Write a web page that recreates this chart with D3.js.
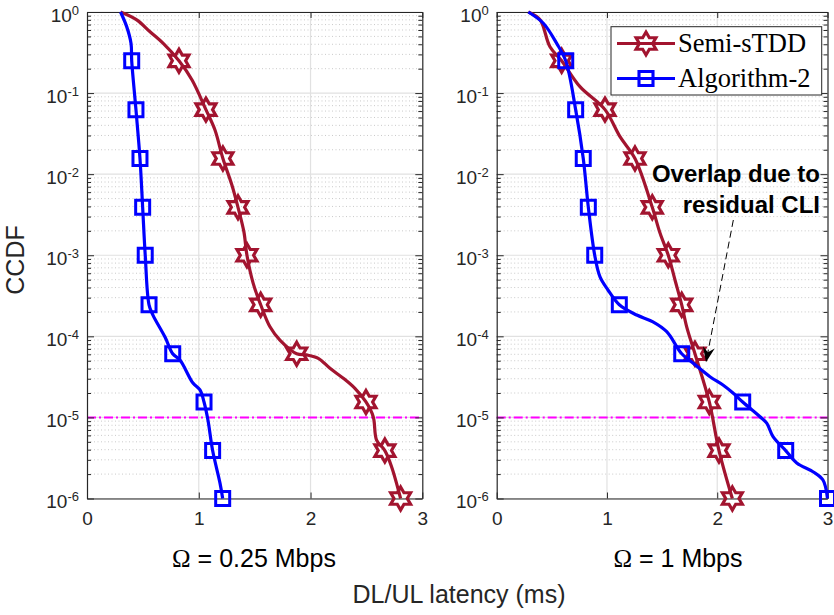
<!DOCTYPE html>
<html><head><meta charset="utf-8">
<script src="https://cdn.jsdelivr.net/npm/d3@7"></script>
<style>
html,body{margin:0;padding:0;background:#fff;}
svg{display:block;}
</style></head>
<body>
<svg id="chart" width="834" height="615"></svg>
<script>
// ---------------- DATA ----------------
const seriesNames = ["Semi-sTDD", "Algorithm-2"];
const panelTitles = ["0.25 Mbps", "1 Mbps"];
const xTickValues = [0, 1, 2, 3];
const yTickExponents = [0, -1, -2, -3, -4, -5, -6];
const targetCCDF = 1e-5;

// markers are placed at these CCDF levels
const markerCCDF = [0.25, 0.0625, 0.0156, 0.0039, 0.001, 2.45e-4, 6.1e-5, 1.55e-5, 3.9e-6, 1e-6];

// Panel 1: Omega = 0.25 Mbps
const p1SemiLatency = [0.30, 0.445, 0.564, 0.682, 0.823, 0.94, 1.064, 1.145, 1.216, 1.297, 1.351, 1.404, 1.431, 1.487, 1.554, 1.637, 1.726, 1.876, 1.965, 2.069, 2.174, 2.293, 2.397, 2.496, 2.561, 2.591, 2.665, 2.725, 2.806];
const p1SemiCCDF    = [1, 0.80, 0.57, 0.41, 0.25, 0.145, 0.0625, 0.035, 0.0156, 0.0073, 0.0039, 0.00194, 0.001, 4.5e-4, 2.45e-4, 1.31e-4, 9e-5, 6.1e-5, 5.9e-5, 5.36e-5, 4.03e-5, 3.04e-5, 2.28e-5, 1.55e-5, 1.02e-5, 5.26e-6, 3.9e-6, 2.47e-6, 1e-6];
const p1SemiMarkerLatency = [0.823, 1.064, 1.216, 1.351, 1.431, 1.554, 1.876, 2.496, 2.665, 2.806];

const p1AlgLatency = [0.30, 0.355, 0.394, 0.40, 0.438, 0.474, 0.498, 0.521, 0.555, 0.590, 0.698, 0.767, 0.832, 0.948, 1.011, 1.047, 1.082, 1.124, 1.19, 1.214];
const p1AlgCCDF    = [1, 0.66, 0.41, 0.25, 0.0625, 0.0156, 0.0039, 0.001, 2.45e-4, 1.83e-4, 9.8e-5, 6.1e-5, 5.1e-5, 2.65e-5, 2.18e-5, 1.55e-5, 9.3e-6, 3.9e-6, 1.55e-6, 1e-6];
const p1AlgMarkerLatency = [0.40, 0.438, 0.474, 0.498, 0.521, 0.555, 0.767, 1.047, 1.124, 1.214];

// Panel 2: Omega = 1 Mbps
const p2SemiLatency = [0.287, 0.393, 0.483, 0.589, 0.755, 0.982, 1.118, 1.254, 1.411, 1.481, 1.556, 1.617, 1.678, 1.723, 1.798, 1.928, 2.016, 2.137];
const p2SemiCCDF    = [1, 0.80, 0.373, 0.25, 0.12, 0.0625, 0.029, 0.0156, 0.0039, 0.00188, 0.001, 4.95e-4, 2.45e-4, 1.31e-4, 6.1e-5, 1.55e-5, 3.9e-6, 1e-6];
const p2SemiMarkerLatency = [0.589, 0.982, 1.254, 1.411, 1.556, 1.678, 1.798, 1.928, 2.016, 2.137];

const p2AlgLatency = [0.287, 0.423, 0.544, 0.626, 0.716, 0.785, 0.831, 0.889, 0.937, 1.009, 1.112, 1.27, 1.417, 1.542, 1.678, 1.78, 1.934, 2.052, 2.143, 2.231, 2.388, 2.449, 2.506, 2.621, 2.721, 2.868, 2.959, 3.0];
const p2AlgCCDF    = [1, 0.726, 0.41, 0.25, 0.0625, 0.0156, 0.0039, 0.001, 5.4e-4, 3.73e-4, 2.45e-4, 1.83e-4, 1.51e-4, 1.14e-4, 6.1e-5, 4.69e-5, 3.18e-5, 2.51e-5, 2.0e-5, 1.55e-5, 1.02e-5, 8.5e-6, 5.8e-6, 3.9e-6, 2.74e-6, 2.14e-6, 1.69e-6, 1e-6];
const p2AlgMarkerLatency = [0.626, 0.716, 0.785, 0.831, 0.889, 1.112, 1.678, 2.231, 2.621, 3.0];

// annotation
const annotationLines = ["Overlap due to", "residual CLI"];
const annotationTarget = [1.898, 4.8e-5]; // latency, CCDF of arrow tip (panel 2)
const annotationStart = [2.146, 2.72e-3];

// ---------------- STYLE / LAYOUT ----------------
const RED = "#A2142F", BLUE = "#0000FF", AXIS = "#262626";
const SANS = "'Liberation Sans', Arial, Helvetica, sans-serif";
const SERIF = "'Liberation Serif', 'Times New Roman', serif";
const panels = [
  {x0: 87, x1: 422.3, title: panelTitles[0], titleX: 254,
   series: [
     {lat: p1SemiLatency, ccdf: p1SemiCCDF, mk: p1SemiMarkerLatency, color: RED, marker: "hex"},
     {lat: p1AlgLatency, ccdf: p1AlgCCDF, mk: p1AlgMarkerLatency, color: BLUE, marker: "sq"}]},
  {x0: 496.7, x1: 827.5, title: panelTitles[1], titleX: 678,
   series: [
     {lat: p2SemiLatency, ccdf: p2SemiCCDF, mk: p2SemiMarkerLatency, color: RED, marker: "hex"},
     {lat: p2AlgLatency, ccdf: p2AlgCCDF, mk: p2AlgMarkerLatency, color: BLUE, marker: "sq"}]}
];
const yTop = 12, yBot = 498.5;

const svg = d3.select("#chart");

const hexagram = {
  draw(ctx, size) {
    const R = Math.sqrt(size), r = R / Math.sqrt(3);
    for (let i = 0; i < 12; i++) {
      const a = -Math.PI / 2 + i * Math.PI / 6;
      const rr = i % 2 === 0 ? R : r;
      const px = rr * Math.cos(a), py = rr * Math.sin(a);
      if (i === 0) ctx.moveTo(px, py); else ctx.lineTo(px, py);
    }
    ctx.closePath();
  }
};
const squareSym = {
  draw(ctx, size) { const h = Math.sqrt(size) / 2; ctx.rect(-h, -h, 2 * h, 2 * h); }
};
function markerPath(kind) {
  return kind === "hex" ? d3.symbol().type(hexagram).size(11.5 * 11.5)()
                        : d3.symbol().type(squareSym).size(14 * 14)();
}

function supLabel(sel, exp) {
  sel.text(null);
  sel.append("tspan").text("10");
  sel.append("tspan").attr("dy", -7).attr("font-size", 13).text(String(exp));
}

panels.forEach((p, pi) => {
  const x = d3.scaleLinear().domain([0, 3]).range([p.x0, p.x1]);
  const y = d3.scaleLog().domain([1e-6, 1]).range([yBot, yTop]);
  const g = svg.append("g");

  g.append("rect").attr("x", p.x0).attr("y", yTop).attr("width", p.x1 - p.x0).attr("height", yBot - yTop).attr("fill", "#fff");

  // minor grid (horizontal, dotted)
  const minors = [];
  for (let e = -6; e < 0; e++) for (let m = 2; m <= 9; m++) minors.push(m * Math.pow(10, e));
  g.append("g").selectAll("line").data(minors).join("line")
    .attr("x1", p.x0).attr("x2", p.x1).attr("y1", d => y(d)).attr("y2", d => y(d))
    .attr("stroke", "#bdbdbd").attr("stroke-width", 0.8).attr("stroke-dasharray", "1,2.5");
  // major grid
  const decades = yTickExponents.map(e => Math.pow(10, e));
  g.append("g").selectAll("line").data(decades).join("line")
    .attr("x1", p.x0).attr("x2", p.x1).attr("y1", d => y(d)).attr("y2", d => y(d))
    .attr("stroke", "#e1e1e1").attr("stroke-width", 1.2);
  g.append("g").selectAll("line").data(xTickValues.slice(1, -1)).join("line")
    .attr("x1", d => x(d)).attr("x2", d => x(d)).attr("y1", yTop).attr("y2", yBot)
    .attr("stroke", "#e1e1e1").attr("stroke-width", 1.2);

  // target line
  g.append("line").attr("x1", p.x0).attr("x2", p.x1).attr("y1", y(targetCCDF)).attr("y2", y(targetCCDF))
    .attr("stroke", "#FF00FF").attr("stroke-width", 2).attr("stroke-dasharray", "9,3,2,3");

  // axes
  const axStyle = a => {
    a.select(".domain").attr("stroke", AXIS).attr("stroke-width", 1.2);
    a.selectAll(".tick line").attr("stroke", AXIS).attr("stroke-width", 1);
  };
  const yl = g.append("g").attr("transform", `translate(${p.x0},0)`)
    .call(d3.axisLeft(y).tickValues(decades).tickSize(-7).tickSizeOuter(0).tickPadding(8).tickFormat(() => ""));
  yl.call(axStyle);
  yl.selectAll(".tick text").each(function (d) {
    const t = d3.select(this);
    t.attr("font-family", SANS).attr("font-size", 19).attr("fill", AXIS).attr("dy", 9).attr("text-anchor", "end");
    supLabel(t, Math.round(Math.log10(d)));
  });
  g.append("g").attr("transform", `translate(${p.x0},0)`)
    .call(d3.axisLeft(y).tickValues(minors).tickSize(-4).tickSizeOuter(0).tickFormat(() => ""))
    .call(a => { a.select(".domain").remove(); a.selectAll(".tick line").attr("stroke", AXIS); });
  g.append("g").attr("transform", `translate(${p.x1},0)`)
    .call(d3.axisRight(y).tickValues(decades).tickSize(-7).tickSizeOuter(0).tickFormat(() => ""))
    .call(axStyle);
  g.append("g").attr("transform", `translate(${p.x1},0)`)
    .call(d3.axisRight(y).tickValues(minors).tickSize(-4).tickSizeOuter(0).tickFormat(() => ""))
    .call(a => { a.select(".domain").remove(); a.selectAll(".tick line").attr("stroke", AXIS); });
  const xb = g.append("g").attr("transform", `translate(0,${yBot})`)
    .call(d3.axisBottom(x).tickValues(xTickValues).tickSize(-6).tickSizeOuter(0).tickPadding(13).tickFormat(d3.format("d")));
  xb.call(axStyle);
  xb.selectAll(".tick text").attr("font-family", SANS).attr("font-size", 19).attr("fill", AXIS);
  g.append("g").attr("transform", `translate(0,${yTop})`)
    .call(d3.axisTop(x).tickValues(xTickValues).tickSize(-6).tickSizeOuter(0).tickFormat(() => ""))
    .call(axStyle);

  // series
  const line = d3.line().x(d => x(d[0])).y(d => y(d[1])).curve(d3.curveCatmullRom.alpha(0.5));
  p.series.forEach(s => {
    const pts = s.lat.map((v, i) => [v, s.ccdf[i]]);
    g.append("path").datum(pts).attr("d", line).attr("fill", "none")
      .attr("stroke", s.color).attr("stroke-width", 3.2).attr("stroke-linejoin", "round");
    const mks = s.mk.map((v, i) => [v, markerCCDF[i]]);
    g.append("g").selectAll("path").data(mks).join("path")
      .attr("transform", d => `translate(${x(d[0])},${y(d[1])})`)
      .attr("d", markerPath(s.marker)).attr("fill", "none")
      .attr("stroke", s.color).attr("stroke-width", s.marker === "hex" ? 3.2 : 3)
      .attr("stroke-linejoin", "miter");
  });

  // panel title
  const tt = svg.append("text").attr("x", p.titleX).attr("y", 567).attr("text-anchor", "middle")
    .attr("font-family", SANS).attr("font-size", 25).attr("fill", "#000");
  tt.append("tspan").attr("font-family", SERIF).text("Ω");
  tt.append("tspan").text(" = " + p.title);

  if (pi === 1) {
    // legend
    const lg = svg.append("g");
    lg.append("rect").attr("x", 611).attr("y", 26.7).attr("width", 210.7).attr("height", 68.3)
      .attr("fill", "#fff").attr("stroke", AXIS).attr("stroke-width", 1);
    const rows = [{name: seriesNames[0], color: RED, marker: "hex", y: 43.5},
                  {name: seriesNames[1], color: BLUE, marker: "sq", y: 78.5}];
    rows.forEach(r => {
      lg.append("line").attr("x1", 617).attr("x2", 675).attr("y1", r.y).attr("y2", r.y)
        .attr("stroke", r.color).attr("stroke-width", 3.2);
      lg.append("path").attr("transform", `translate(646,${r.y})`).attr("d", markerPath(r.marker))
        .attr("fill", "none").attr("stroke", r.color).attr("stroke-width", 3.1);
      lg.append("text").attr("x", 678).attr("y", r.y + 8.5).attr("font-family", SERIF)
        .attr("font-size", 26.5).attr("fill", "#000").text(r.name);
    });

    // annotation
    const ax = x(annotationStart[0]), ay = y(annotationStart[1]);
    const tx = x(annotationTarget[0]), ty = y(annotationTarget[1]);
    const ang = Math.atan2(ty - ay, tx - ax);
    const L = 15, W = 6, back = 10;
    const bx = tx - L * Math.cos(ang), by = ty - L * Math.sin(ang);
    svg.append("line").attr("x1", ax).attr("y1", ay).attr("x2", tx - back * Math.cos(ang)).attr("y2", ty - back * Math.sin(ang))
      .attr("stroke", "#000").attr("stroke-width", 1).attr("stroke-dasharray", "7,4");
    const nx = -Math.sin(ang), ny = Math.cos(ang);
    const nb = [tx - back * Math.cos(ang), ty - back * Math.sin(ang)];
    svg.append("path").attr("d", `M${tx},${ty}L${bx + W * nx},${by + W * ny}L${nb[0]},${nb[1]}L${bx - W * nx},${by - W * ny}Z`)
      .attr("fill", "#000");
    annotationLines.forEach((t, i) => {
      svg.append("text").attr("x", 820).attr("y", 182 + i * 31).attr("text-anchor", "end")
        .attr("font-family", SANS).attr("font-weight", "bold").attr("font-size", 24).attr("fill", "#000").text(t);
    });
  }
});

// axis labels
svg.append("text").attr("transform", "translate(24,260) rotate(-90)").attr("text-anchor", "middle")
  .attr("font-family", SANS).attr("font-size", 25).attr("fill", AXIS).text("CCDF");
svg.append("text").attr("x", 459).attr("y", 603).attr("text-anchor", "middle")
  .attr("font-family", SANS).attr("font-size", 25).attr("fill", AXIS).text("DL/UL latency (ms)");
</script>
</body></html>
